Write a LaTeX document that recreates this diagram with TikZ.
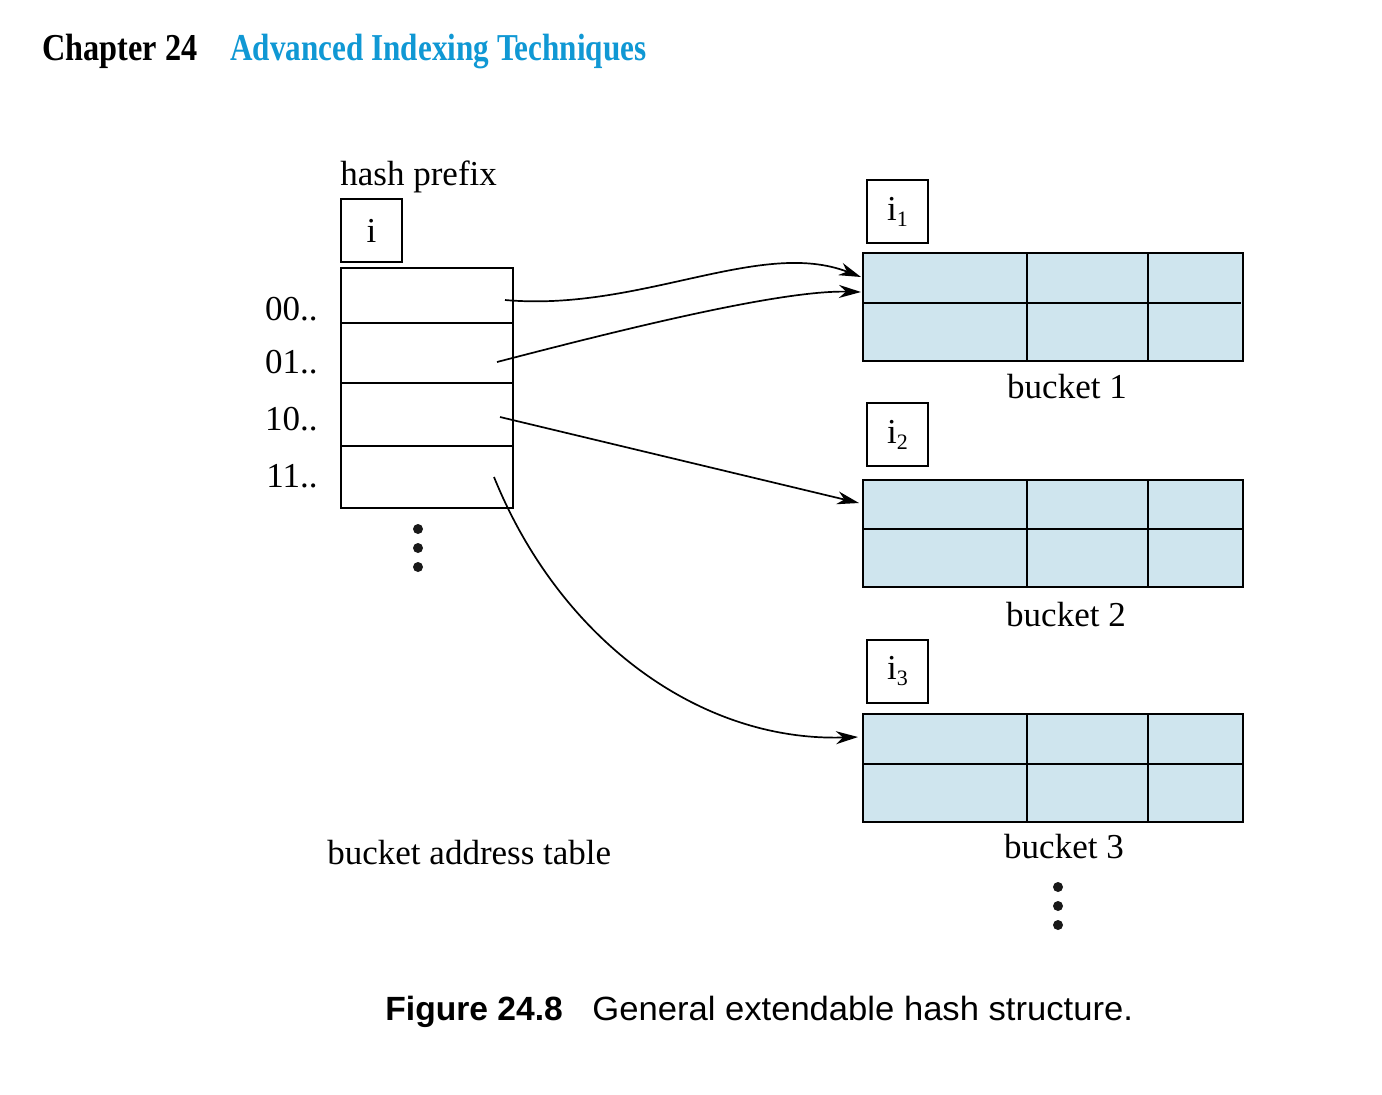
\documentclass[tikz,border=0pt]{standalone}
\usepackage{fontspec}
\setmainfont{Liberation Serif}
\newfontfamily\capfont{Liberation Sans}
\usetikzlibrary{arrows.meta}
\definecolor{headblue}{RGB}{16,152,212}
\definecolor{bucketfill}{RGB}{207,229,238}
\begin{document}
\begin{tikzpicture}[x=0.5pt,y=-0.5pt,
  txt/.style={font=\fontsize{17.5}{20}\selectfont, inner sep=0pt, anchor=base west},
  cell/.style={draw, line width=0.9pt, inner sep=0pt, outer sep=0pt, anchor=north west, minimum width=86pt, fill=white},
  pbox/.style={draw, line width=0.9pt, inner sep=0pt, outer sep=0pt, anchor=north west, minimum width=30.5pt, minimum height=31.5pt, font=\fontsize{17.5}{20}\selectfont},
  bucket/.style={draw, line width=0.9pt, fill=bucketfill, inner sep=0pt, outer sep=0pt, anchor=north west, minimum width=190pt, minimum height=54pt},
  grid/.style={line width=0.9pt},
  conn/.style={line width=0.85pt, -{Stealth[length=11pt,width=6.5pt,inset=3.5pt]}},
  dot/.style={circle, fill=black!90, inner sep=0pt, minimum size=5pt}
]
\useasboundingbox (0,0) rectangle (1382,1094);
\fill[white] (0,0) rectangle (1382,1094);

% header
\node[anchor=base west, inner sep=0pt] (hd1) at (42,60) {\fontsize{19}{19}\selectfont\bfseries\scalebox{0.85}[1]{Chapter 24}};
\node[anchor=base west, inner sep=0pt, text=headblue] (hd2) at (230,60) {\fontsize{19}{19}\selectfont\bfseries\scalebox{0.82}[1]{Advanced Indexing Techniques}};

% hash prefix
\node[txt] (hp) at (340,185) {hash prefix};
\node[pbox] (ibox) at (341,199) {i};

% bucket address table
\node[cell, minimum height=27.5pt] (c0) at (341,268) {};
\node[cell, minimum height=30pt] (c1) at (341,323) {};
\node[cell, minimum height=31.5pt] (c2) at (341,383) {};
\node[cell, minimum height=31pt] (c3) at (341,446) {};

\node[txt, anchor=base east] (l0) at (318,320) {00..};
\node[txt, anchor=base east] (l1) at (318,373) {01..};
\node[txt, anchor=base east] (l2) at (318,430) {10..};
\node[txt, anchor=base east] (l3) at (318,487) {11..};

\node[dot] (d1) at (418,529) {};
\node[dot] (d2) at (418,548) {};
\node[dot] (d3) at (418,567) {};

\node[txt] (bat) at (327,864) {bucket address table};

% buckets
\node[pbox] (i1) at (867,180) {i\raisebox{-3pt}{\fontsize{11}{11}\selectfont 1}};
\node[bucket] (b1) at (863,253) {};
\draw[grid] (863,303) -- (1241,303) (1027,253) -- (1027,361) (1148,253) -- (1148,361);
\node[txt, anchor=base] (bl1) at (1067,398) {bucket 1};

\node[pbox] (i2) at (867,403) {i\raisebox{-3pt}{\fontsize{11}{11}\selectfont 2}};
\node[bucket, minimum height=53.5pt] (b2) at (863,480) {};
\draw[grid] (863,529) -- (1243,529) (1027,480) -- (1027,587) (1148,480) -- (1148,587);
\node[txt, anchor=base] (bl2) at (1066,626) {bucket 2};

\node[pbox] (i3) at (867,640) {i\raisebox{-3pt}{\fontsize{11}{11}\selectfont 3}};
\node[bucket] (b3) at (863,714) {};
\draw[grid] (863,764) -- (1243,764) (1027,714) -- (1027,822) (1148,714) -- (1148,822);
\node[txt, anchor=base] (bl3) at (1064,858) {bucket 3};

\node[dot] (e1) at (1058,887) {};
\node[dot] (e2) at (1058,906) {};
\node[dot] (e3) at (1058,925) {};

% connector ends
\coordinate (s0) at (505,300);
\coordinate (s1) at (497,362);
\coordinate (s2) at (500,417);
\coordinate (s3) at (494,477);
\coordinate (t0) at (861,277);
\coordinate (t1) at (861,292);
\coordinate (t2) at (859,503);
\coordinate (t3) at (858,737);

\draw[conn] (s0) .. controls (640,312) and (760,238) .. (t0);
\draw[conn] (s1) .. controls (620,330) and (780,290) .. (t1);
\draw[conn] (s2) -- (t2);
\draw[conn] (s3) .. controls (560,640) and (700,742) .. (t3);

% caption
\node[anchor=base west, inner sep=0pt, font=\capfont\fontsize{16.8}{18}\selectfont\bfseries] (cap1) at (385,1020) {Figure 24.8};
\node[anchor=base west, inner sep=0pt, font=\capfont\fontsize{16.8}{18}\selectfont] (cap2) at (592,1020) {\scalebox{1.03}[1]{General extendable hash structure.}};
\end{tikzpicture}
\end{document}
